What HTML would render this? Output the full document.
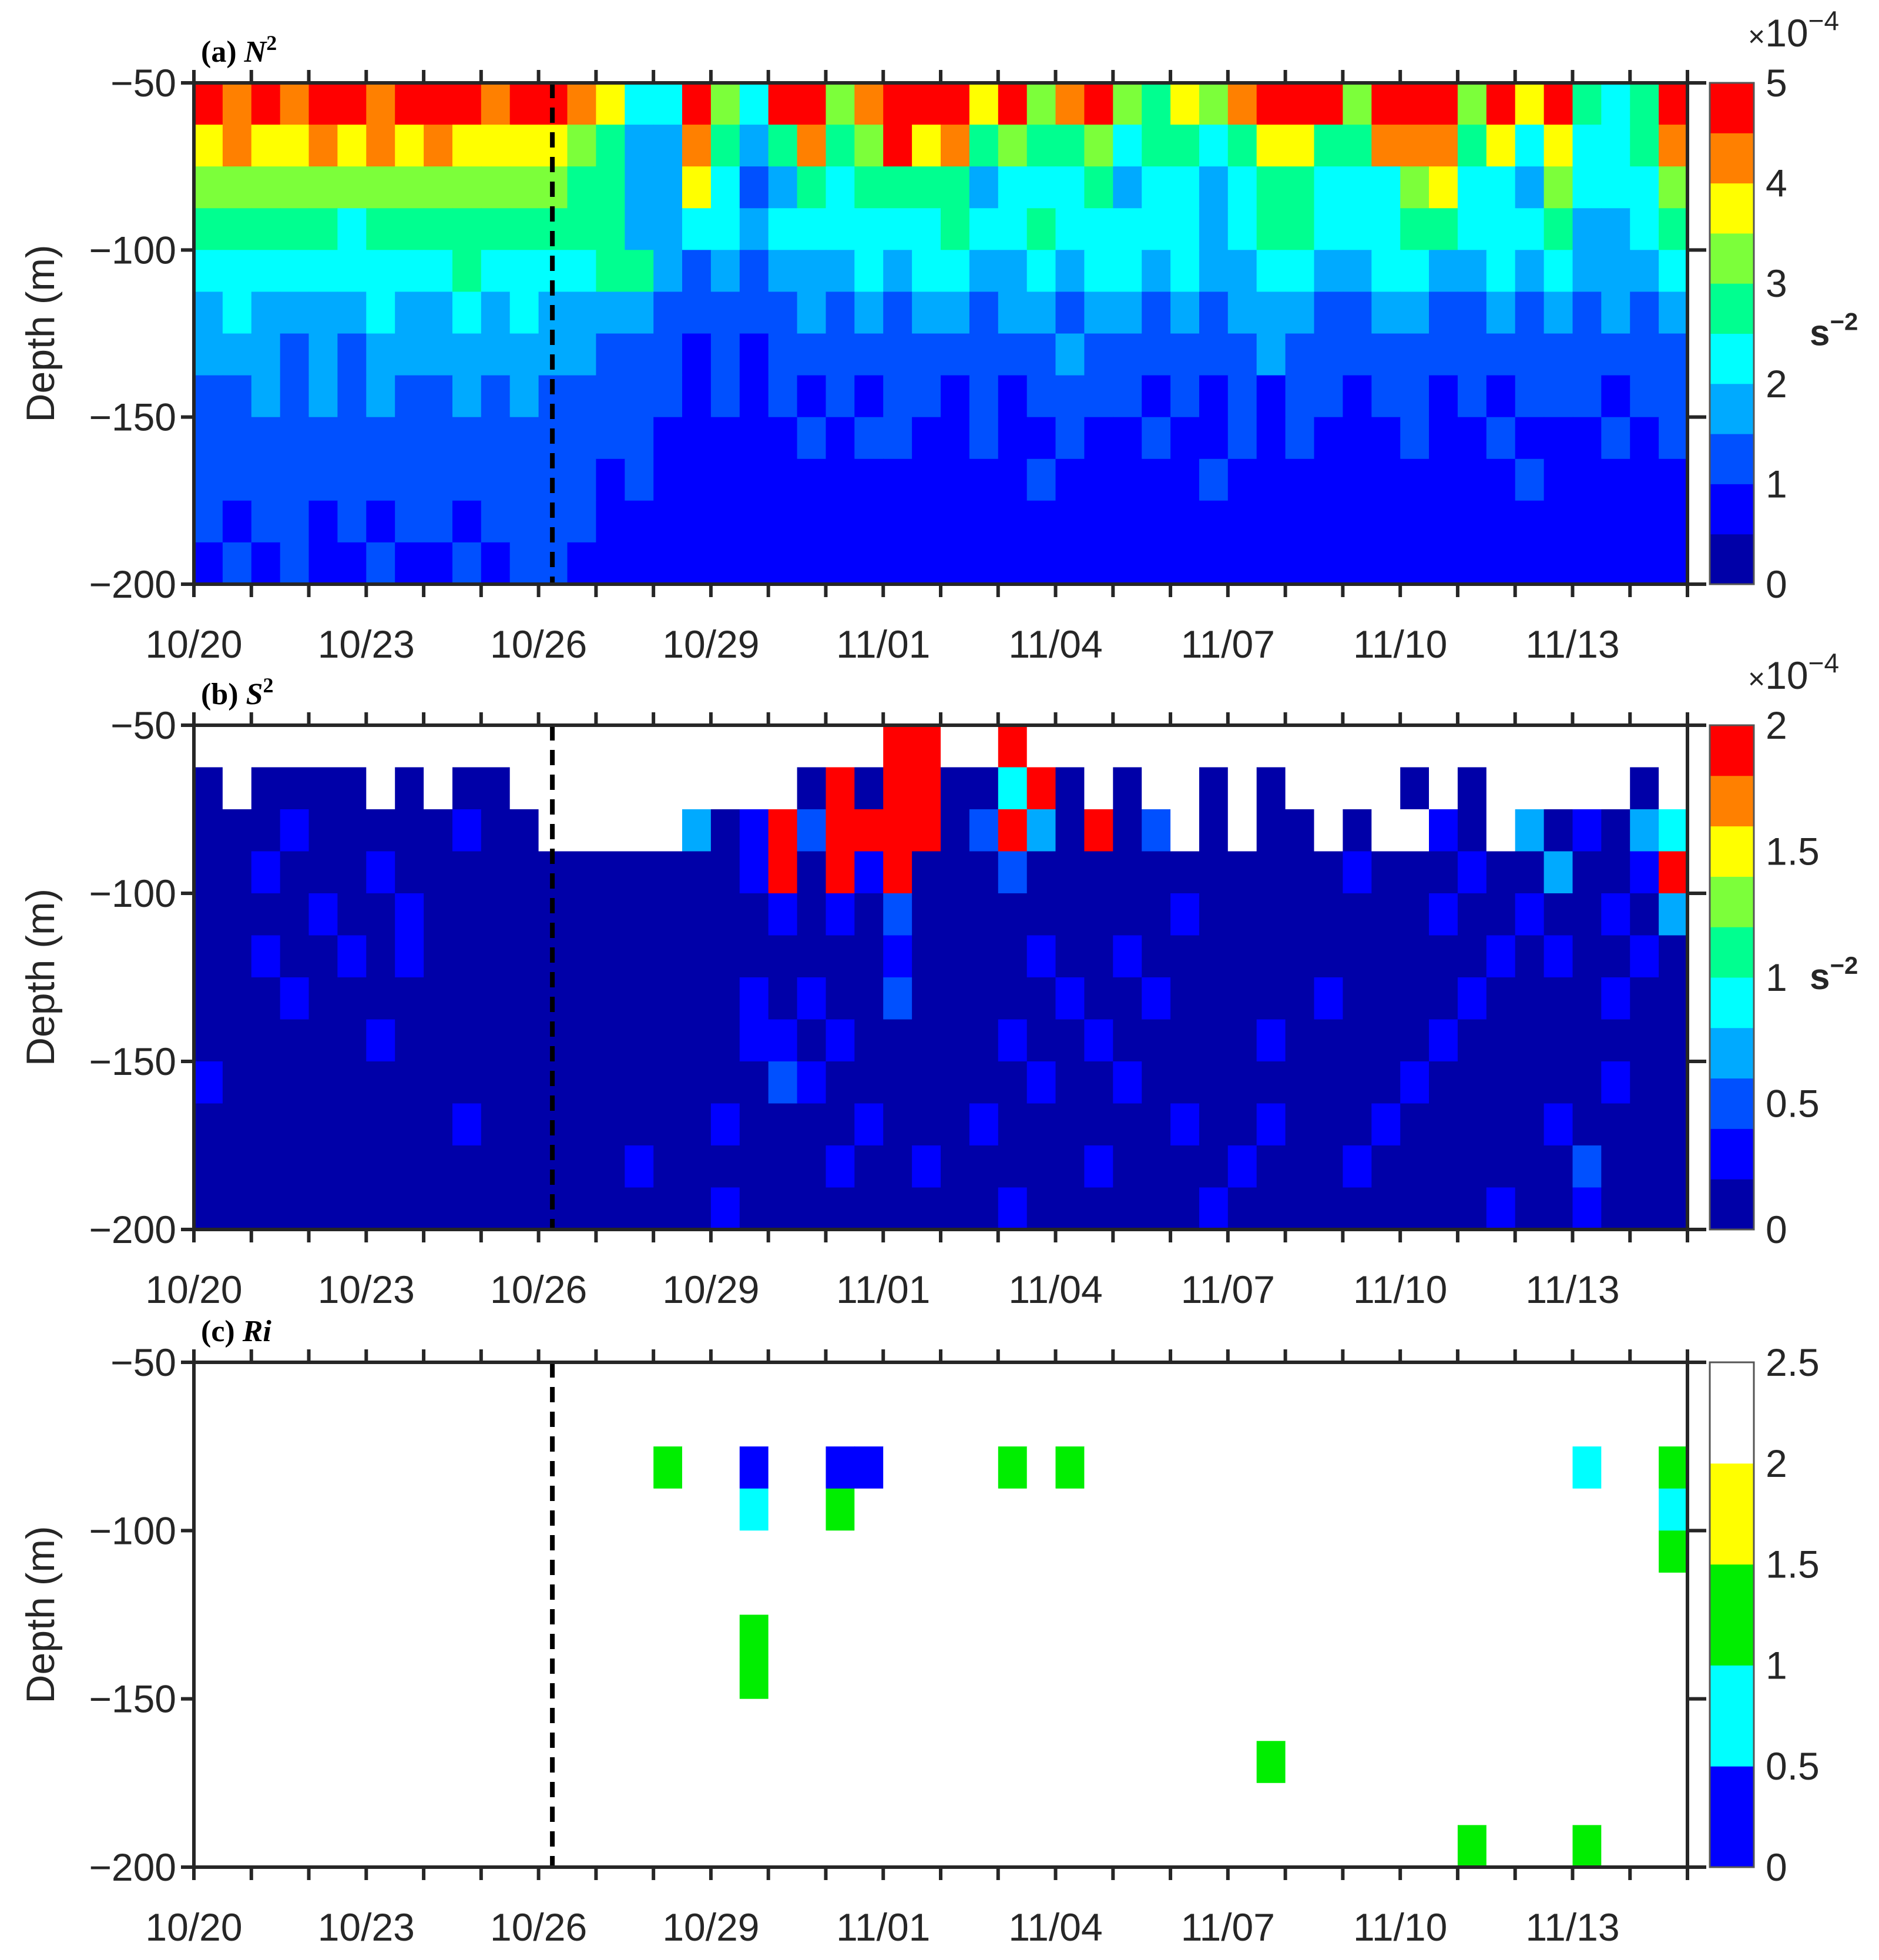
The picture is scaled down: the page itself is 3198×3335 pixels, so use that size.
<!DOCTYPE html>
<html><head><meta charset="utf-8">
<style>
html,body{margin:0;padding:0;background:#fff;}
svg{display:block;}
text{font-family:"Liberation Sans",Arial,sans-serif;fill:#262626;}
</style></head>
<body>
<svg id="fig" width="3198" height="3335" viewBox="0 0 3198 3335" xmlns="http://www.w3.org/2000/svg"></svg>
<script>
// ---- data (half-day bins from 10/20, 12.5 m depth rows from -50 to -200) ----
const dateTicks = ["10/20","10/23","10/26","10/29","11/01","11/04","11/07","11/10","11/13"];
const depthTicks = [-50,-100,-150,-200];
const dashedDay = 6.24;
const n2Rows = [
"989899899989"+"9874"+"49649968"+"99979689"+"65768999"+"69996979"+"5459",
"787787878777"+"7653"+"38535856"+"97856556"+"45545775"+"58885747"+"4458",
"666666666666"+"6553"+"37423545"+"55534445"+"34434554"+"44674436"+"4446",
"555554555555"+"5553"+"34434444"+"44544544"+"44434554"+"44554445"+"3345",
"444444444544"+"4455"+"32323334"+"34433434"+"43433443"+"34433434"+"3334",
"343333433434"+"3333"+"22222323"+"23323323"+"32323332"+"23322323"+"2323",
"333232333333"+"3322"+"21212222"+"22222232"+"22222322"+"22222222"+"2222",
"223232322323"+"2222"+"21212121"+"22121222"+"21212122"+"12212122"+"2122",
"222222222222"+"2222"+"11111212"+"21121121"+"12112121"+"11211211"+"1212",
"222222222222"+"2212"+"11111111"+"11111211"+"11121111"+"11111121"+"1111",
"212212122122"+"2211"+"11111111"+"11111111"+"11111111"+"11111111"+"1111",
"121211211212"+"2111"+"11111111"+"11111111"+"11111111"+"11111111"+"1111"];
const s2Rows = [
"wwwwwwwwwwwwwwwwwwwwwwww"+"99ww9ww"+"wwwwwwwwwwwwwwwwwwwww",
"0w0000w0w00w"+"wwwwwwwww"+"0909900490"+"w0ww0w0wwww0w0wwwww0w",
"000100000100"+"wwww"+"w3019299"+"99029309"+"02w0w00w"+"0ww10w30"+"1034",
"001000100000"+"0000"+"00019091"+"90002000"+"00000000"+"10001003"+"0019",
"000010010000"+"0000"+"00001010"+"20000000"+"00100000"+"00010010"+"0103",
"001001010000"+"0000"+"00000000"+"10000100"+"10000000"+"00000101"+"0010",
"000100000000"+"0000"+"00010100"+"20000010"+"01000001"+"00001000"+"0100",
"000000100000"+"0000"+"00011010"+"00001001"+"00000100"+"00010000"+"0000",
"100000000000"+"0000"+"00002100"+"00000100"+"10000000"+"00100000"+"0100",
"000000000100"+"0000"+"00100001"+"00010000"+"00100100"+"01000001"+"0000",
"000000000000"+"0001"+"00000010"+"01000001"+"00001000"+"10000000"+"2000",
"000000000000"+"0000"+"00100000"+"00001000"+"00010000"+"00000100"+"1000"];
const riRows = [
"wwwwwwwwwwwwwwwwwwwwwwwwwwwwwwwwwwwwwwwwwwwwwwwwwwww",
"wwwwwwwwwwwwwwwwwwwwwwwwwwwwwwwwwwwwwwwwwwwwwwwwwwww",
"wwwwwwwwwwwwwwww2ww0ww00wwww2w2wwwwwwwwwwwwwwwww1ww2",
"wwwwwwwwwwwwwwwwwww1ww2wwwwwwwwwwwwwwwwwwwwwwwwwwww1",
"wwwwwwwwwwwwwwwwwwwwwwwwwwwwwwwwwwwwwwwwwwwwwwwwwww2",
"wwwwwwwwwwwwwwwwwwwwwwwwwwwwwwwwwwwwwwwwwwwwwwwwwwww",
"wwwwwwwwwwwwwwwwwww2wwwwwwwwwwwwwwwwwwwwwwwwwwwwwwww",
"wwwwwwwwwwwwwwwwwww2wwwwwwwwwwwwwwwwwwwwwwwwwwwwwwww",
"wwwwwwwwwwwwwwwwwwwwwwwwwwwwwwwwwwwwwwwwwwwwwwwwwwww",
"wwwwwwwwwwwwwwwwwwwwwwwwwwwwwwwwwwwww2wwwwwwwwwwwwww",
"wwwwwwwwwwwwwwwwwwwwwwwwwwwwwwwwwwwwwwwwwwwwwwwwwwww",
"wwwwwwwwwwwwwwwwwwwwwwwwwwwwwwwwwwwwwwwwwwww2www2www"];
const jetColors = ["#0000a8","#0000ff","#0050ff","#00aaff","#00ffff","#00ff90","#7cff3a","#ffff00","#ff8000","#ff0000"];
const riColors = ["#0000ff","#00ffff","#00ee00","#ffff00","#ffffff"];
const cbA = ["0","1","2","3","4","5"];
const cbB = ["0","0.5","1","1.5","2"];
const cbC = ["0","0.5","1","1.5","2","2.5"];

const NS="http://www.w3.org/2000/svg";
const svg=document.getElementById('fig');
const X0=330,X1=2872,DAYS=26;
function xDay(d){return X0+(X1-X0)*d/DAYS;}
function el(tag,attrs,parent){const e=document.createElementNS(NS,tag);for(const k in attrs)e.setAttribute(k,attrs[k]);(parent||svg).appendChild(e);return e;}

const panels=[
 {key:'a',y0:141,y1:994,rows:n2Rows,colors:jetColors,title:'(a) ',sym:'N',sup:'2',cbLabels:cbA,cbN:10,exp:true},
 {key:'b',y0:1234,y1:2092,rows:s2Rows,colors:jetColors,title:'(b) ',sym:'S',sup:'2',cbLabels:cbB,cbN:10,exp:true},
 {key:'c',y0:2318,y1:3177,rows:riRows,colors:riColors,title:'(c) ',sym:'Ri',sup:'',cbLabels:cbC,cbN:5,exp:false}
];

panels.forEach(p=>{
  const g=el('g',{});
  
  
  const yD=d=>p.y0+(p.y1-p.y0)*(-50-d)/150;
  const nR=p.rows.length,nC=p.rows[0].length;
  const cw=(X1-X0)/nC, ch=(p.y1-p.y0)/nR;
  const hm=el('g',{},g);
  
  
  for(let r=0;r<nR;r++){for(let c=0;c<nC;c++){
    const v=p.rows[r][c];
    let col = v==='w' ? '#ffffff' : p.colors[parseInt(v)];
    const cell=el('rect',{x:xDay(c*0.5).toFixed(1),y:yD(-50-r*12.5).toFixed(1),width:(cw+0.8).toFixed(1),height:(ch+0.8).toFixed(1),fill:col},hm);
    
    
  }}
  const dl=el('line',{x1:xDay(dashedDay),x2:xDay(dashedDay),y1:p.y0,y2:p.y1,stroke:'#000','stroke-width':8,'stroke-dasharray':'26,16'},g);
  
  
  const box=el('rect',{x:X0,y:p.y0,width:X1-X0,height:p.y1-p.y0,fill:'none',stroke:'#262626','stroke-width':6},g);
  
  
  for(let d=0;d<=DAYS;d++){
    const x=xDay(d);
    el('line',{x1:x,x2:x,y1:p.y0-22,y2:p.y0,stroke:'#262626','stroke-width':6},g);
    el('line',{x1:x,x2:x,y1:p.y1,y2:p.y1+22,stroke:'#262626','stroke-width':6},g);
  }
  dateTicks.forEach((t,i)=>{
    const tx=el('text',{x:xDay(i*3),y:p.y1+125,'font-size':66,'text-anchor':'middle'},g);
    tx.textContent=t;
    
    
  });
  depthTicks.forEach(d=>{
    const y=yD(d);
    el('line',{x1:X0-22,x2:X0,y1:y,y2:y,stroke:'#262626','stroke-width':6},g);
    el('line',{x1:X1,x2:X1+32,y1:y,y2:y,stroke:'#262626','stroke-width':6},g);
    const ty=el('text',{x:X0-30,y:y+23,'font-size':66,'text-anchor':'end'},g);
    ty.textContent=String(d).replace('-','\u2212');
    
    
  });
  const yl=el('text',{x:0,y:0,'font-size':68,'text-anchor':'middle',transform:`translate(92,${(p.y0+p.y1)/2}) rotate(-90)`},g);
  yl.textContent='Depth (m)';
  
  
  const tt=el('text',{x:342,y:p.y0-36,'font-size':52,'font-weight':'bold',style:'font-family:"Liberation Serif",serif;fill:#000'},g);
  
  
  tt.appendChild(document.createTextNode(p.title));
  const ts=el('tspan',{'font-style':'italic'},tt); ts.textContent=p.sym;
  if(p.sup){const sp=el('tspan',{'font-size':36,dy:-20},tt); sp.textContent=p.sup;}
  const CX=2910,CW=75;
  const cb=el('g',{},g);
  
  
  const lh=(p.y1-p.y0)/p.cbN;
  for(let i=0;i<p.cbN;i++){
    const col=p.key==='c'?riColors[i]:jetColors[i];
    el('rect',{x:CX,y:(p.y1-(i+1)*lh).toFixed(1),width:CW,height:(lh+0.5).toFixed(1),fill:col},cb);
  }
  el('rect',{x:CX,y:p.y0,width:CW,height:p.y1-p.y0,fill:'none',stroke:'#555','stroke-width':3},cb);
  const nL=p.cbLabels.length;
  p.cbLabels.forEach((t,i)=>{
    const y=p.y1-(p.y1-p.y0)*i/(nL-1);
    const lt=el('text',{x:CX+CW+20,y:y+23,'font-size':66},cb);
    lt.textContent=t;
    
    
  });
  if(p.exp){
    const ex=el('text',{x:2975,y:p.y0-62,'font-size':66},cb);
    
    
    const a=el('tspan',{'font-size':50},ex); a.textContent='\u00d7';
    const b=el('tspan',{},ex); b.textContent='10';
    const c=el('tspan',{'font-size':46,dy:-28},ex); c.textContent='\u22124';
    const un=el('text',{x:3080,y:(p.y0+p.y1)/2+20,'font-size':62,'font-weight':'bold',fill:'#000'},cb);
    
    
    const u1=el('tspan',{},un); u1.textContent='s';
    const u2=el('tspan',{'font-size':42,dy:-26},un); u2.textContent='\u22122';
  }
});
</script>
</body></html>
